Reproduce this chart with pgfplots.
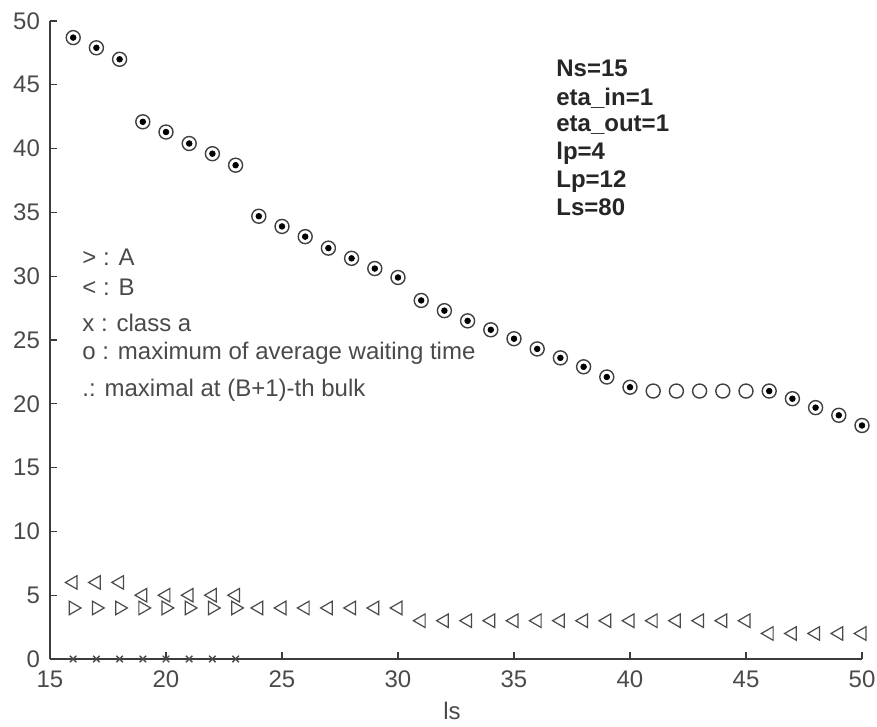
\documentclass[border=0pt]{standalone}
\usepackage{fontspec}
\setmainfont{Liberation Sans}
\usepackage{pgfplots}
\pgfplotsset{compat=1.18}
\definecolor{axgray}{HTML}{3C3C3C}
\definecolor{txtgray}{HTML}{4A4A4A}
\definecolor{mkgray}{HTML}{4A4A4A}
\pgfplotstableread{
x y
16 48.7
17 47.9
18 47.0
19 42.1
20 41.3
21 40.4
22 39.6
23 38.7
24 34.7
25 33.9
26 33.1
27 32.2
28 31.4
29 30.6
30 29.9
31 28.1
32 27.3
33 26.5
34 25.8
35 25.1
36 24.3
37 23.6
38 22.9
39 22.1
40 21.3
41 21.0
42 21.0
43 21.0
44 21.0
45 21.0
46 21.0
47 20.4
48 19.7
49 19.1
50 18.3
}\maxwait
\pgfplotstableread{
x y
16 48.7
17 47.9
18 47.0
19 42.1
20 41.3
21 40.4
22 39.6
23 38.7
24 34.7
25 33.9
26 33.1
27 32.2
28 31.4
29 30.6
30 29.9
31 28.1
32 27.3
33 26.5
34 25.8
35 25.1
36 24.3
37 23.6
38 22.9
39 22.1
40 21.3
46 21.0
47 20.4
48 19.7
49 19.1
50 18.3
}\maxbulk
\pgfplotstableread{
x y
16 6
17 6
18 6
19 5
20 5
21 5
22 5
23 5
24 4
25 4
26 4
27 4
28 4
29 4
30 4
31 3
32 3
33 3
34 3
35 3
36 3
37 3
38 3
39 3
40 3
41 3
42 3
43 3
44 3
45 3
46 2
47 2
48 2
49 2
50 2
}\Bdata
\pgfplotstableread{
x y
16 4
17 4
18 4
19 4
20 4
21 4
22 4
23 4
}\Adata
\pgfplotstableread{
x y
16 0
17 0
18 0
19 0
20 0
21 0
22 0
23 0
}\classa
\begin{document}
\begin{tikzpicture}
\path[use as bounding box] (-25pt,-34pt) rectangle (413.5pt,329.5pt);
\begin{axis}[
  at={(0,0)}, anchor=south west,
  scale only axis, width=406pt, height=319pt,
  xmin=15, xmax=50, ymin=0, ymax=50,
  axis lines=left,
  axis line style={-, draw=axgray, line width=0.8pt},
  xtick={15,20,...,50}, ytick={0,5,...,50},
  tick align=inside,
  major tick length=3.5pt,
  tick style={draw=axgray, line width=0.6pt},
  ticklabel style={font=\fontsize{12}{14}\selectfont, text=txtgray},
  xticklabel style={yshift=-2.5pt},
  yticklabel style={xshift=-1.5pt},
  /pgf/number format/assume math mode=true,
  xlabel={ls},
  xlabel style={font=\fontsize{12}{14}\selectfont, text=txtgray, at={(axis description cs:0.5,0)}, anchor=center, yshift=-26pt, xshift=-2pt},
  clip=false,
]
\addplot[only marks, mark=o, mark size=3.5pt, mark options={draw=black!75, line width=0.7pt}] table[x=x,y=y] {\maxwait};
\addplot[only marks, mark=*, mark size=1.4pt, mark options={draw=black, fill=black}] table[x=x,y=y] {\maxbulk};
\addplot[only marks, mark=triangle, mark size=3.9pt, mark options={draw=mkgray, line width=0.6pt, rotate=90}] table[x=x,y=y] {\Bdata};
\addplot[only marks, mark=triangle, mark size=3.9pt, mark options={draw=mkgray, line width=0.6pt, rotate=-90}] table[x=x,y=y] {\Adata};
\addplot[only marks, mark=x, mark size=2.3pt, mark options={draw=mkgray, line width=0.7pt}] table[x=x,y=y] {\classa};
\begin{scope}[every node/.style={anchor=west, inner sep=0pt, font=\fontsize{12}{14}\selectfont, text=txtgray}]
\node at (axis cs:16.38,31.5) {> : A};
\node at (axis cs:16.38,29.15) {< : B};
\node at (axis cs:16.38,26.33) {x : class a};
\node at (axis cs:16.38,23.98) {o : maximum of average waiting time};
\node at (axis cs:16.38,21.08) {.: maximal at (B+1)-th bulk};
\end{scope}
\begin{scope}[every node/.style={anchor=west, inner sep=0pt, font=\fontsize{12}{14}\selectfont\bfseries, text=black!85}]
\node at (axis cs:36.81,46.3) {Ns=15};
\node at (axis cs:36.81,43.97) {eta\_in=1};
\node at (axis cs:36.81,41.85) {eta\_out=1};
\node at (axis cs:36.81,39.66) {lp=4};
\node at (axis cs:36.81,37.38) {Lp=12};
\node at (axis cs:36.81,35.42) {Ls=80};
\end{scope}
\end{axis}
\end{tikzpicture}
\end{document}
